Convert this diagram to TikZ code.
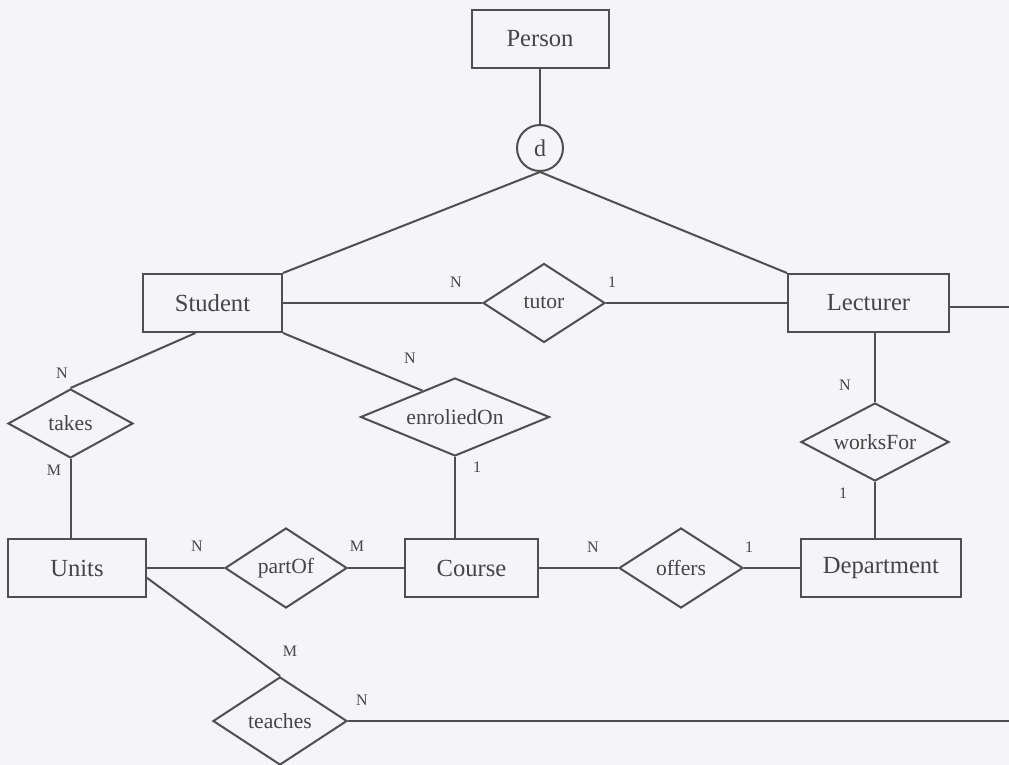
\documentclass[tikz,border=0pt]{standalone}
\usepackage{fontspec}
\setmainfont{Liberation Serif}
\usetikzlibrary{shapes.geometric,calc}
\definecolor{ink}{RGB}{80,78,78}
\definecolor{txt}{RGB}{70,68,68}
\definecolor{paper}{RGB}{245,245,249}
\begin{document}
\begin{tikzpicture}[x=0.5pt,y=-0.5pt,
  line width=1pt, draw=ink,
  entity/.style={draw=ink,rectangle,inner sep=0pt,text=txt,font=\fontsize{12.3}{14}\selectfont},
  rel/.style={draw=ink,diamond,inner sep=0pt,text=txt,font=\fontsize{10.8}{12}\selectfont},
  card/.style={inner sep=0pt,text=txt,font=\fontsize{8}{9}\selectfont},
  conn/.style={draw=ink,line width=1pt}]
\fill[paper] (0,0) rectangle (1009,765);
\useasboundingbox (0,0) rectangle (1009,765);
% entities
\node[entity,minimum width=68.5pt,minimum height=29pt] (p) at (540,39) {Person};
\node[draw=ink,circle,inner sep=0pt,minimum size=23pt,text=txt,font=\fontsize{12}{14}\selectfont] (d) at (540,148) {d};
\node[entity,minimum width=69.5pt,minimum height=29pt] (s) at (212.5,303) {Student};
\node[entity,minimum width=80.5pt,minimum height=29pt] (l) at (868.5,303) {Lecturer};
\node[entity,minimum width=69pt,minimum height=29pt] (u) at (77,568) {Units};
\node[entity,minimum width=66.5pt,minimum height=29pt] (c) at (471.5,568) {Course};
\node[entity,minimum width=80pt,minimum height=29pt] (dep) at (881,568) {Department};
% relationships
\node[rel,aspect=1.55,minimum width=61pt,minimum height=39.5pt] (tu) at (544,303) {tutor};
\node[rel,aspect=1.8,minimum width=62.5pt,minimum height=34.5pt] (ta) at (70.5,423.5) {takes};
\node[rel,aspect=2.42,minimum width=94.5pt,minimum height=39pt] (en) at (455,417) {enroliedOn};
\node[rel,aspect=1.52,minimum width=61pt,minimum height=40pt] (po) at (286,568) {partOf};
\node[rel,aspect=1.55,minimum width=62pt,minimum height=40pt] (of) at (681,568) {offers};
\node[rel,aspect=1.9,minimum width=74pt,minimum height=39pt] (wf) at (875,442) {worksFor};
\node[rel,aspect=1.52,minimum width=67pt,minimum height=44pt] (te) at (280,721) {teaches};
% free ends
\coordinate (lr) at (1009,307);
\coordinate (ter) at (1009,721);
% connectors
\draw[conn] (p.south) -- (d.north);
\draw[conn] (d.south) -- (s.north east);
\draw[conn] (d.south) -- (l.north west);
\draw[conn] (s.east) -- (tu.west);
\draw[conn] (tu.east) -- (l.west);
\draw[conn] ($(l.east)+(0,4)$) -- (lr);
\draw[conn] (wf.north |- l.south) -- (wf.north);
\draw[conn] (wf.south) -- (wf.south |- dep.north);
\draw[conn] ($(s.south)+(-17,0)$) -- (ta.north);
\draw[conn] (ta.south) -- (ta.south |- u.north);
\draw[conn] (s.south east) -- (en.141);
\draw[conn] (en.south) -- (en.south |- c.north);
\draw[conn] (u.east) -- (po.west);
\draw[conn] (po.east) -- (c.west);
\draw[conn] (c.east) -- (of.west);
\draw[conn] (of.east) -- (dep.west);
\draw[conn] (u.-8) -- (te.north);
\draw[conn] (te.east) -- (ter);
% cardinalities
\node[card] (c1) at (456,282) {N};
\node[card] (c2) at (612,282) {1};
\node[card] (c3) at (62,373) {N};
\node[card] (c4) at (54,470) {M};
\node[card] (c5) at (410,358) {N};
\node[card] (c6) at (477,467) {1};
\node[card] (c7) at (197,546) {N};
\node[card] (c8) at (357,546) {M};
\node[card] (c9) at (593,547) {N};
\node[card] (c10) at (749,547) {1};
\node[card] (c11) at (845,385) {N};
\node[card] (c12) at (843,493) {1};
\node[card] (c13) at (290,651) {M};
\node[card] (c14) at (362,700) {N};
\end{tikzpicture}
\end{document}
